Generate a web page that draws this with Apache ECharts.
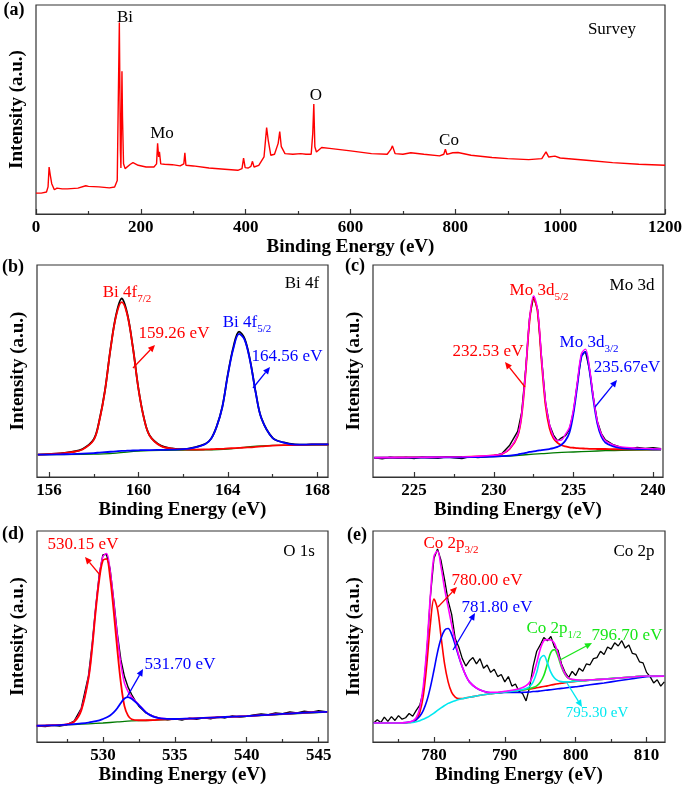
<!DOCTYPE html>
<html><head><meta charset="utf-8">
<script src="https://cdn.jsdelivr.net/npm/echarts@6/dist/echarts.min.js"></script>
<style>html,body{margin:0;padding:0;background:#fff}#c{width:685px;height:789px}</style>
</head><body><div id="c"></div>
<script>
// ---------- (a) Survey ----------
const aX = [0,10,20,23,25,27,30,35,40,50,60,80,95,100,120,140,150,155,157,159,161,162,164,165,167,170,180,185,195,210,225,230,232,234,235.5,238,245,260,275,282,284,286,300,330,360,385,393,396,399,405,410,413,416,425,435,440,443,448,455,462,465,468,475,490,505,515,525,528,530,532,535,545,560,600,640,670,677,680,685,700,715,740,770,778,781,784,795,805,830,870,900,940,965,973,978,990,1000,1050,1100,1150,1200];
const aY = [10,10,10.5,13,22.5,19,14.5,11.6,12.4,12,12,12.4,13.5,13.2,13,12.5,12.9,16,54.7,91.6,30.5,22,68.3,46.6,24,21.7,23.8,24.6,23.3,22.5,22.5,24,33.8,27.3,29.7,24,23.8,23.6,23,24,29.3,23.3,23,22,21.4,20.9,21.7,26.7,22.2,22,22.8,25.2,22.5,23.3,27.3,41.3,35.4,28.1,28.6,33.8,39.4,32.2,28.9,28.6,28.9,28.6,28.6,38.6,52.6,32.2,29.7,31.8,31.4,30.2,28.9,28.6,30.9,32.6,28.9,28.6,29.3,28.6,27.8,28.6,31,28.5,29.3,29.4,28.1,27,26.5,26,26.5,29.7,27.3,27.7,26.8,25.7,24.6,23.8,23.3];
const aTicks = [0,200,400,600,800,1000,1200];
const aMinor = [100,300,500,700,900,1100];

// ---------- (b) Bi 4f ----------
const bX = [155.5,156,156.5,157,157.5,158,158.25,158.5,158.75,159,159.25,159.5,159.75,160,160.25,160.5,161,161.5,162,162.5,163,163.25,163.5,163.75,164,164.25,164.5,164.75,165,165.25,165.5,166,166.5,167,167.5,168,168.5];
const bRaw = [10.6,10.8,11.1,11.8,13.2,17.8,26.8,40.8,60.6,76.5,84.2,77,61.2,41.6,27.6,19.6,14.8,13.5,13.1,14.0,15.7,18.1,23.9,33,48.5,61.5,68.6,65.3,54.8,39.7,27.8,18.5,16.3,15.4,15.3,15.4,15.4];
const bFit72 = [10.6,10.8,11.1,11.7,13,17.5,26.5,40.6,60.4,76,82.5,76.5,61,41.5,27.5,19.5,14.6,13.4,13,12.9,13,13.1,13.2,13.3,13.5,13.6,13.7,13.9,14,14.2,14.4,14.8,15,15.1,15.2,15.3,15.3];
const bFit52 = [10.6,10.6,10.7,10.8,11.0,11.3,11.5,11.7,11.9,12.1,12.3,12.4,12.5,12.6,12.7,12.7,12.8,12.9,13.1,13.9,15.6,18,23.8,32.9,48.2,60.7,67.5,64.7,54.5,39.5,27.7,18.4,16.2,15.3,15.3,15.4,15.4];
const bBgX = [155.5,158,159,160,161,163,164,165,166,168.5];
const bBg = [10.6,10.8,11.3,12.2,12.6,12.8,13.2,14.3,14.9,15.2];
const bTicks = [156,160,164,168];
const bMinor = [158,162,166];

// ---------- (c) Mo 3d ----------
const cX = [222.5,224,226,228,229,230,230.5,231,231.5,231.75,232,232.25,232.5,232.75,233,233.25,233.5,233.75,234,234.25,234.5,234.75,235,235.25,235.5,235.75,236,236.25,236.5,236.75,237,237.5,238,239,240,240.5];
const cFit52 = [9.1,9.2,9.3,9.5,9.7,10.2,10.8,13.2,19.4,29.1,49.3,74,84.3,77.9,54.5,33.8,23,18.2,16.1,15,14.4,14,13.8,13.6,13.5,13.4,13.3,13.3,13.2,13.2,13.2,13.1,13.1,13.1,13,13];
const cFit32 = [9.1,9.1,9.2,9.3,9.4,9.6,9.8,10.1,10.6,11,11.4,11.8,12.1,12.4,12.7,12.9,13.2,13.6,14.2,15.2,17.2,21,30,43.5,56.7,59,50.6,36.5,25.2,19.1,16.3,14.4,13.6,13.2,13.1,13];
const cEnv = [9.1,9.2,9.3,9.5,9.8,10.2,10.9,13.4,19.8,29.6,50.2,75,85.4,79,56.2,35.5,24.8,19,17.2,17.4,20.2,23.5,32,45.2,58.2,60.3,51.8,37.7,26.4,20.3,17.2,15.2,14.2,13.6,13.3,13.2];
const cRawX = [222.5,223,223.5,224,224.5,225,225.5,226,226.5,227,227.5,228,228.5,229,229.5,230,230.5,231,231.5,231.75,232,232.25,232.5,232.75,233,233.25,233.5,233.75,234,234.25,234.5,234.75,235,235.25,235.5,235.75,236,236.25,236.5,236.75,237,237.5,238,238.5,239,239.5,240,240.5];
const cRaw = [9.0,8.6,9.3,8.9,9.2,8.7,9.4,9.0,8.8,9.5,9.1,8.7,9.6,9.2,9.5,10.1,11.0,15.0,21.5,30.5,50.5,75.5,85.1,79,56,35,24.5,19.8,17.0,18.5,19.5,22.5,31,44.5,57.5,59.2,51,37.5,26.2,20.5,17.5,15.2,14,13.2,14.0,13.5,13.8,13.4];
const cBgX = [222.5,228,230,231,232,233,234,235,236,237,238,240.5];
const cBg = [9.1,9.3,9.6,9.9,10.5,11,11.5,11.8,12.1,12.4,12.6,12.8];
const cTicks = [225,230,235,240];
const cMinor = [227.5,232.5,237.5];

// ---------- (d) O 1s ----------
const dX = [525.4,526,527,527.5,528,528.5,529,529.25,529.5,529.75,530,530.25,530.5,530.75,531,531.25,531.5,531.75,532,532.5,533,533.5,534,535,536,537,538,539,540,541,542,543,544,545,545.6];
const dFitA = [7.7,7.8,8.1,8.4,9.5,15,30,44,62,77,86,86.8,78,62,44,28,17,12.5,10.8,10.3,10.3,10.4,10.6,10.9,11.1,11.4,11.7,12,12.3,12.7,13.1,13.5,13.9,14.2,14.3];
const dFitB = [7.7,7.8,8.0,8.2,8.5,8.8,9.2,9.5,9.9,10.3,10.9,11.6,12.6,14,16,18.5,20.6,21.3,20.5,17.5,14,12,11.2,10.9,11.1,11.4,11.7,12,12.3,12.7,13.1,13.5,13.9,14.2,14.3];
const dEnv = [7.7,7.8,8.1,8.45,9.7,15.4,30.6,44.8,63.1,78.4,87.9,89.3,81.4,66.6,50.5,36.9,27.9,23.9,21.3,17.7,14.1,12.1,11.3,11,11.1,11.4,11.7,12,12.3,12.7,13.1,13.5,13.9,14.2,14.3];
const dRawX = [525.5,526,526.5,527,527.5,528,528.5,529,529.25,529.5,529.75,530,530.25,530.5,530.75,531,531.25,531.5,531.75,532,532.25,532.5,533,533.5,534,534.5,535,535.5,536,536.5,537,537.5,538,538.5,539,539.5,540,540.5,541,541.5,542,542.5,543,543.5,544,544.5,545,545.5];
const dRaw = [7.6,7.3,7.9,7.6,8.2,9.9,16,31.5,46,64,79.5,88.7,89,82,67.5,51.5,39,31,26,22.5,19.5,17,13.8,12.3,11.2,10.5,11,10.4,11.3,10.8,11.5,11.0,11.9,11.4,12.3,11.8,12.2,12.8,13.3,12.9,13.8,13.4,14.3,13.8,14.6,14.1,14.8,14.4];
const dBgX = [525.4,527,528,529,530,531,532,533,534,535,540,545.6];
const dBg = [7.7,8.0,8.3,8.6,9.0,9.5,10.0,10.2,10.5,10.8,12.2,14.2];
const dTicks = [530,535,540,545];
const dMinor = [527.5,532.5,537.5,542.5];

// ---------- (e) Co 2p ----------
const eX = [771.5,773,775,776,777,777.5,778,778.5,779,779.5,780,780.5,781,781.5,782,782.5,783,783.5,784,784.5,785,786,787,788,789,790,791,792,792.5,793,793.5,794,794.5,795,795.5,796,796.5,797,797.5,798,798.5,799,800,801,802,804,806,808,810,812.5];
const eFit780 = [9,9,9,9.1,9.5,10.5,14,22,37,56,67.7,63,50,37,28.5,23.5,21.3,20.6,20.6,20.9,21.2,21.8,22.4,22.9,23.3,23.7,24.1,24.5,24.7,24.9,25.1,25.4,25.7,26.0,26.3,26.6,27,27.3,27.6,27.9,28.1,28.3,28.7,29,29.3,29.8,30.3,30.8,31.3,31.2];
const eFit781 = [9,9,9,9.2,9.8,10.6,12.2,15,19.5,26,34,42.5,49,53,53.8,51,46,40.5,35.5,31.5,28.5,25.5,24,23.3,23.3,23.5,23.5,23.5,23.5,23.6,23.7,23.9,24,24.2,24.4,24.6,24.8,25,25.2,25.4,25.6,25.8,26.2,26.6,27.1,28,29,30,31,31.2];
const eFit795 = [9,9,9,9.1,9.3,9.6,10.1,10.8,11.6,12.6,13.7,15,16.2,17.3,18.3,19,19.6,20.1,20.5,20.9,21.2,21.8,22.4,22.9,23.3,23.7,24.1,24.6,24.9,25.4,26.3,28.5,33,39.5,41,37.5,33,30.3,29.1,28.6,28.5,28.5,28.8,29,29.3,29.8,30.3,30.8,31.3,31.2];
const eEnv = [9,9,9,9.2,10,11.5,16.2,26.5,45,69.5,88,90.5,83,72.7,64,55.5,47.7,41,35.6,31.5,28.5,25.6,24.1,23.5,23.6,24,24.5,25.2,25.8,26.7,28.3,31.8,37.5,44,48,48.5,48.3,46.8,42,36.2,32.3,30.2,29.5,29.3,29.5,29.8,30.3,30.8,31.3,31.2];
const eGX = [788,789,790,791,792,792.5,793,793.5,794,794.5,795,795.5,796,796.5,797,797.5,798,798.5,799,800,801,802,804,806,808,810,812.5];
const eFit796 = [22.9,23.3,23.7,24.1,24.5,24.7,25,25.3,25.8,26.6,28.3,31.5,37,42.5,43.8,40.5,35.5,32,30.2,29.2,29.2,29.4,29.8,30.3,30.8,31.3,31.2];
const eRawX = [771.5,772,772.5,773,773.5,774,774.5,775,775.5,776,776.5,777,777.5,778,778.5,779,779.5,780,780.5,781,781.5,782,782.5,783,783.5,784,784.5,785,785.5,786,786.5,787,787.5,788,788.5,789,789.5,790,790.5,791,791.5,792,792.5,793,793.5,794,794.5,795,795.5,796,796.5,797,797.5,798,798.5,799,799.5,800,800.5,801,801.5,802,802.5,803,803.5,804,804.5,805,805.5,806,806.5,807,807.5,808,808.5,809,809.5,810,810.5,811,811.5,812,812.5];
const eRaw = [9.0,10.5,9.2,11.8,9.8,12.0,10.2,12.5,10.8,11.5,13.5,12.2,15.0,17.5,24,43,69,87,91.5,86,77,67,60.5,49,45,39.5,36,38.5,40,37,39.5,35,36.5,33,34.5,31,32,28.5,31,26.5,27.5,24,23,19.5,26,36,43,46,49.5,48,50,45,43.5,37,33,30.5,33.5,31.5,35,33.5,37,36.5,39.5,40,43,41.5,45,44,47,45.5,48,44.5,46,42,41.5,38,37.5,33,31,28,29.5,26.5,28.5];
const eTicks = [780,790,800,810];
const eMinor = [775,785,795,805];

// ---------- build ----------
const FONT = '"Liberation Serif", "Times New Roman", serif';
const pairs = (xs, ys) => xs.map((x, i) => [x, ys[i]]);

const panels = [
  {grid:{left:36, top:5, width:630, height:209}, min:0, max:1200, ticks:aTicks, minor:aMinor},
  {grid:{left:37, top:265, width:291, height:212}, min:155.46, max:168.48, ticks:bTicks, minor:bMinor},
  {grid:{left:373, top:265, width:290, height:212}, min:222.42, max:240.62, ticks:cTicks, minor:cMinor},
  {grid:{left:37, top:531, width:291, height:211}, min:525.42, max:545.65, ticks:dTicks, minor:dMinor},
  {grid:{left:373, top:531, width:292, height:211}, min:771.4, max:812.6, ticks:eTicks, minor:eMinor}
];

const grids = [], xAxes = [], yAxes = [];
panels.forEach((p, i) => {
  grids.push(Object.assign({show:true, borderColor:'#333', borderWidth:1.2, containLabel:false}, p.grid));
  xAxes.push({
    type:'value', gridIndex:i, min:p.min, max:p.max, position:'bottom',
    axisLine:{show:true, onZero:false, lineStyle:{color:'#333', width:1.2}},
    axisTick:{show:true, inside:true, length:5, customValues:p.ticks, lineStyle:{color:'#333', width:1.2}},
    axisLabel:{show:true, customValues:p.ticks, margin:5, color:'#000', fontFamily:FONT, fontWeight:'bold', fontSize:17,
      formatter:function (v) { return String(v); }},
    splitLine:{show:false},
    name:'Binding Energy (eV)', nameLocation:'middle', nameGap:24,
    nameTextStyle:{color:'#000', fontFamily:FONT, fontWeight:'bold', fontSize:19}
  });
  xAxes.push({
    type:'value', gridIndex:i, min:p.min, max:p.max, position:'bottom',
    axisLine:{show:false},
    axisTick:{show:true, inside:true, length:3, customValues:p.minor, lineStyle:{color:'#333', width:1.2}},
    axisLabel:{show:false}, splitLine:{show:false}
  });
  yAxes.push({
    type:'value', gridIndex:i, min:0, max:100,
    axisLine:{show:false}, axisTick:{show:false}, axisLabel:{show:false}, splitLine:{show:false},
    name:'Intensity (a.u.)', nameLocation:'middle', nameRotate:90, nameGap:9,
    nameTextStyle:{color:'#000', fontFamily:FONT, fontWeight:'bold', fontSize:19}
  });
});

function line(g, xs, ys, color, width, smooth, z) {
  return {type:'line', xAxisIndex:g*2, yAxisIndex:g, data:pairs(xs, ys), showSymbol:false, symbol:'none',
    smooth:smooth ? 0.35 : false, clip:true, z:z || 2, silent:true, animation:false,
    lineStyle:{color:color, width:width}};
}
const RED='#ff0000', BLUE='#0000ff', BLACK='#000000', GRN='#007a00', LGRN='#19e619', CYAN='#00e8f0', MAG='#ff00ff';

const series = [
  line(0, aX, aY, RED, 1.4, false),
  line(1, bX, bRaw, BLACK, 1.8, true, 2),
  line(1, bBgX, bBg, GRN, 1.3, true, 3),
  line(1, bX, bFit72, RED, 1.8, true, 4),
  line(1, bX, bFit52, BLUE, 1.8, true, 5),
  line(2, cRawX, cRaw, BLACK, 1.4, false, 2),
  line(2, cBgX, cBg, GRN, 1.3, true, 3),
  line(2, cX, cFit52, RED, 1.8, true, 4),
  line(2, cX, cFit32, BLUE, 1.8, true, 5),
  line(2, cX, cEnv, MAG, 1.4, true, 6),
  line(3, dRawX, dRaw, BLACK, 1.4, false, 2),
  line(3, dBgX, dBg, GRN, 1.3, true, 3),
  line(3, dX, dEnv, MAG, 1.5, true, 4),
  line(3, dX, dFitA, RED, 1.8, true, 5),
  line(3, dX, dFitB, BLUE, 1.8, true, 6),
  line(4, eRawX, eRaw, BLACK, 1.3, false, 2),
  line(4, eX, eFit780, RED, 1.6, true, 3),
  line(4, eX, eFit781, BLUE, 1.6, true, 4),
  line(4, eGX, eFit796, LGRN, 1.6, true, 5),
  line(4, eX, eFit795, CYAN, 1.6, true, 6),
  line(4, eX, eEnv, MAG, 1.6, true, 7)
];

// ---------- annotations ----------
function txt(x, y, text, color, size, bold) {
  return {type:'text', x:x, y:y, z:100, silent:true,
    style:{text:text, fill:color, font:(bold?'bold ':'') + size + 'px ' + FONT,
      align:'center', verticalAlign:'middle', textAlign:'center', textVerticalAlign:'middle'}};
}
function subTxt(x, y, main, sub, color, size) {
  return {type:'text', x:x, y:y, z:100, silent:true,
    style:{text:'{m|' + main + '}{s|' + sub + '}', fill:color,
      align:'center', verticalAlign:'middle', textAlign:'center', textVerticalAlign:'middle',
      rich:{
        m:{fill:color, color:color, fontSize:size, fontFamily:FONT, lineHeight:24},
        s:{fill:color, color:color, fontSize:Math.round(size*0.65), fontFamily:FONT, lineHeight:12, verticalAlign:'bottom'}
      }}};
}
function arrow(x1, y1, x2, y2, color) {
  const dx = x2 - x1, dy = y2 - y1, L = Math.hypot(dx, dy), ux = dx / L, uy = dy / L;
  const hl = 7, hw = 3.2, bx = x2 - ux * hl, by = y2 - uy * hl;
  return [
    {type:'line', z:100, silent:true, shape:{x1:x1, y1:y1, x2:bx, y2:by}, style:{stroke:color, lineWidth:1.3}},
    {type:'polygon', z:100, silent:true, shape:{points:[[x2, y2], [bx - uy * hw, by + ux * hw], [bx + uy * hw, by - ux * hw]]}, style:{fill:color}}
  ];
}

const graphics = [
  txt(14, 10, '(a)', '#000', 18, true),
  txt(13, 267, '(b)', '#000', 18, true),
  txt(355, 266, '(c)', '#000', 18, true),
  txt(13, 534, '(d)', '#000', 18, true),
  txt(357, 535, '(e)', '#000', 18, true),
  // (a)
  txt(125, 18, 'Bi', '#000', 17), txt(162, 134, 'Mo', '#000', 17), txt(316, 96, 'O', '#000', 17),
  txt(449, 141, 'Co', '#000', 17), txt(612, 30, 'Survey', '#000', 17),
  // (b)
  subTxt(127, 293, 'Bi 4f', '7/2', RED, 17), txt(174, 334, '159.26 eV', RED, 17),
  subTxt(247, 323, 'Bi 4f', '5/2', BLUE, 17), txt(287, 357, '164.56 eV', BLUE, 17),
  txt(302, 284, 'Bi 4f', '#000', 17),
  ...arrow(133, 368, 155, 345, RED), ...arrow(253, 388, 270, 367, BLUE),
  // (c)
  subTxt(539, 291, 'Mo 3d', '5/2', RED, 17), txt(488, 352, '232.53 eV', RED, 17),
  subTxt(589, 343, 'Mo 3d', '3/2', BLUE, 17), txt(627, 368, '235.67eV', BLUE, 17),
  txt(632, 286, 'Mo 3d', '#000', 17),
  ...arrow(525, 387, 505, 362, RED), ...arrow(595, 407, 617, 380, BLUE),
  // (d)
  txt(83, 545, '530.15 eV', RED, 17), txt(180, 665, '531.70 eV', BLUE, 17),
  txt(299, 552, 'O 1s', '#000', 17),
  ...arrow(100, 575, 85, 557, RED), ...arrow(127, 697, 143, 669, BLUE),
  // (e)
  subTxt(451, 544, 'Co 2p', '3/2', RED, 17), txt(487, 581, '780.00 eV', RED, 17),
  txt(497, 608, '781.80 eV', BLUE, 17),
  subTxt(554, 629, 'Co 2p', '1/2', LGRN, 17), txt(627, 636, '796.70 eV', LGRN, 17),
  txt(597, 713, '795.30 eV', CYAN, 15),
  txt(634, 552, 'Co 2p', '#000', 17),
  ...arrow(438, 607, 457, 587, RED), ...arrow(453, 650, 475, 613, BLUE),
  ...arrow(560, 660, 592, 643, LGRN), ...arrow(567, 683, 582, 707, CYAN)
];

const chart = echarts.init(document.getElementById('c'), null, {renderer:'canvas'});
chart.setOption({
  animation:false, backgroundColor:'#ffffff',
  grid:grids, xAxis:xAxes, yAxis:yAxes, series:series, graphic:graphics
});
</script>
</body></html>
